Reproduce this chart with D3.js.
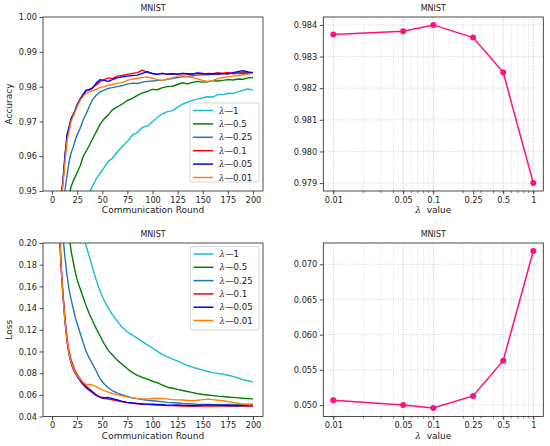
<!DOCTYPE html>
<html><head><meta charset="utf-8">
<script src="https://cdn.jsdelivr.net/npm/d3@7"></script>
<style>
body{margin:0;background:#fff;}
svg{font-family:"DejaVu Sans",sans-serif;}
</style></head>
<body><svg id="c" width="550" height="446"></svg>
<script>
// ---------- DATA ----------
const rounds = [1,3,5,7,9,11,13,15,17,19,21,23,25,28,31,34,37,40,44,48,52,56,60,65,70,75,80,85,90,95,100,105,110,115,120,125,130,135,140,145,150,155,160,165,170,175,180,185,190,195,200];
const seriesNames = ["λ—1","λ—0.5","λ—0.25","λ—0.1","λ—0.05","λ—0.01"];
const lambdaLabels = ["1","0.5","0.25","0.1","0.05","0.01"];
const seriesColors = ["#17becf","#008000","#1f77b4","#ff0000","#0000ff","#ff7f0e"];

const accL1   = [0.80,0.85,0.88,0.90,0.91,0.92,0.925,0.93,0.934,0.937,0.94,0.942,0.944,0.946,0.947,0.948,0.9495,0.9512,0.9535,0.9551,0.9568,0.9585,0.9594,0.9612,0.9628,0.9642,0.9661,0.9668,0.9683,0.9687,0.9699,0.9712,0.9722,0.9728,0.9731,0.9741,0.9750,0.9755,0.9761,0.9764,0.9768,0.9771,0.9770,0.9777,0.9777,0.9781,0.9780,0.9785,0.9789,0.9793,0.9790];
const accL05  = [0.85,0.89,0.91,0.925,0.935,0.940,0.944,0.947,0.949,0.9512,0.9528,0.9540,0.9553,0.9572,0.9599,0.9615,0.9630,0.9648,0.9670,0.9693,0.9708,0.9718,0.9733,0.9742,0.9750,0.9760,0.9766,0.9775,0.9782,0.9786,0.9792,0.9791,0.9797,0.9800,0.9801,0.9806,0.9811,0.9808,0.9812,0.9815,0.9813,0.9814,0.9817,0.9816,0.9818,0.9820,0.9819,0.9822,0.9821,0.9825,0.9826];
const accL025 = [0.88,0.91,0.925,0.935,0.942,0.947,0.9505,0.9545,0.9585,0.9610,0.9625,0.9645,0.9661,0.9680,0.9704,0.9722,0.9742,0.9761,0.9775,0.9785,0.9790,0.9795,0.9797,0.9800,0.9803,0.9807,0.9810,0.9809,0.9813,0.9815,0.9816,0.9818,0.9818,0.9821,0.9823,0.9826,0.9828,0.9829,0.9831,0.9833,0.9834,0.9834,0.9836,0.9836,0.9837,0.9838,0.9838,0.9840,0.9842,0.9841,0.9840];
const accL01  = [0.90,0.92,0.935,0.943,0.948,0.9535,0.9600,0.9656,0.9680,0.9705,0.9718,0.9730,0.9745,0.9762,0.9775,0.9788,0.9792,0.9796,0.9805,0.9814,0.9820,0.9825,0.9823,0.9830,0.9832,0.9835,0.9838,0.9840,0.9847,0.9840,0.9838,0.9836,0.9838,0.9835,0.9837,0.9836,0.9838,0.9835,0.9837,0.9838,0.9836,0.9838,0.9837,0.9840,0.9838,0.9841,0.9837,0.9838,0.9839,0.9838,0.9838];
const accL005 = [0.90,0.92,0.934,0.942,0.947,0.953,0.9605,0.9662,0.9685,0.9708,0.9720,0.9733,0.9748,0.9765,0.9778,0.9790,0.9790,0.9795,0.9810,0.9820,0.9818,0.9815,0.9820,0.9825,0.9828,0.9830,0.9832,0.9833,0.9838,0.9843,0.9837,0.9835,0.9838,0.9836,0.9837,0.9835,0.9838,0.9837,0.9836,0.9839,0.9838,0.9836,0.9837,0.9835,0.9838,0.9836,0.9840,0.9843,0.9846,0.9842,0.9840];
const accL001 = [0.90,0.92,0.934,0.942,0.947,0.952,0.9585,0.9645,0.9672,0.9700,0.9714,0.9728,0.9742,0.9760,0.9772,0.9781,0.9784,0.9788,0.9792,0.9798,0.9800,0.9804,0.9806,0.9810,0.9812,0.9818,0.9822,0.9824,0.9826,0.9828,0.9824,0.9820,0.9818,0.9822,0.9826,0.9830,0.9832,0.9828,0.9826,0.9822,0.9818,0.9814,0.9818,0.9823,0.9826,0.9828,0.9830,0.9832,0.9834,0.9836,0.9838];

const lossL1   = [0.9,0.7,0.55,0.47,0.41,0.37,0.34,0.31,0.29,0.27,0.255,0.243,0.232,0.218,0.207,0.197,0.188,0.178,0.166,0.155,0.147,0.140,0.134,0.128,0.122,0.118,0.115,0.112,0.109,0.106,0.103,0.100,0.097,0.095,0.093,0.091,0.089,0.087,0.0855,0.084,0.0828,0.0815,0.0805,0.0798,0.079,0.078,0.077,0.0755,0.074,0.073,0.0719];
const lossL05  = [0.8,0.55,0.42,0.35,0.30,0.265,0.24,0.222,0.207,0.193,0.183,0.174,0.166,0.158,0.150,0.142,0.135,0.129,0.121,0.114,0.107,0.101,0.097,0.092,0.088,0.084,0.0805,0.078,0.076,0.0745,0.0725,0.071,0.069,0.067,0.066,0.065,0.064,0.063,0.062,0.061,0.0603,0.0598,0.0593,0.0588,0.0585,0.0580,0.0576,0.0572,0.0568,0.0565,0.0563];
const lossL025 = [0.7,0.45,0.33,0.27,0.23,0.205,0.186,0.170,0.157,0.148,0.140,0.132,0.126,0.117,0.108,0.100,0.094,0.089,0.082,0.0745,0.070,0.0665,0.0638,0.0615,0.0598,0.0585,0.0572,0.0565,0.0557,0.0550,0.0545,0.0540,0.0535,0.0530,0.0527,0.0524,0.0520,0.0518,0.0515,0.0512,0.0510,0.0510,0.0508,0.0510,0.0509,0.0510,0.0511,0.0512,0.0512,0.0513,0.0513];
const lossL01  = [0.6,0.38,0.28,0.22,0.18,0.152,0.130,0.112,0.100,0.092,0.087,0.082,0.079,0.075,0.0710,0.0680,0.0655,0.0632,0.0600,0.0575,0.0565,0.0560,0.0555,0.0545,0.0535,0.0528,0.0522,0.0518,0.0515,0.0512,0.0508,0.0505,0.0503,0.0500,0.0500,0.0498,0.0497,0.0496,0.0495,0.0497,0.0496,0.0498,0.0497,0.0496,0.0497,0.0496,0.0498,0.0497,0.0496,0.0497,0.0496];
const lossL005 = [0.6,0.38,0.28,0.22,0.18,0.150,0.127,0.109,0.097,0.089,0.084,0.080,0.077,0.073,0.0695,0.0665,0.0642,0.0622,0.0595,0.0578,0.0573,0.0575,0.0565,0.0552,0.0540,0.0530,0.0524,0.0520,0.0515,0.0514,0.0513,0.0510,0.0508,0.0505,0.0504,0.0506,0.0503,0.0502,0.0500,0.0502,0.0505,0.0507,0.0505,0.0503,0.0504,0.0502,0.0500,0.0499,0.0500,0.0501,0.0500];
const lossL001 = [0.6,0.38,0.28,0.22,0.18,0.150,0.127,0.110,0.098,0.090,0.085,0.081,0.078,0.0745,0.0715,0.0695,0.0695,0.0690,0.0675,0.0655,0.0638,0.0625,0.0612,0.0600,0.0590,0.0580,0.0572,0.0565,0.0560,0.0563,0.0566,0.0568,0.0565,0.0560,0.0556,0.0553,0.0552,0.0548,0.0545,0.0550,0.0556,0.0560,0.0556,0.0550,0.0545,0.0538,0.0530,0.0522,0.0514,0.0510,0.0507];

const lambdaValues = [0.01,0.05,0.1,0.25,0.5,1];
const lambdaTickLabels = ["0.01","0.05","0.1","0.25","0.5","1"];
const finalAcc  = [0.9837,0.9838,0.9840,0.9836,0.9825,0.9790];
const finalLoss = [0.0507,0.0500,0.0496,0.0513,0.0563,0.0719];

const roundTicks = [0,25,50,75,100,125,150,175,200];
const accTicks  = [0.95,0.96,0.97,0.98,0.99,1.00];
const lossTicks = [0.04,0.06,0.08,0.10,0.12,0.14,0.16,0.18,0.20];
const accLamTicks  = [0.979,0.980,0.981,0.982,0.983,0.984];
const lossLamTicks = [0.050,0.055,0.060,0.065,0.070];

const accSeries  = [accL1,accL05,accL025,accL01,accL005,accL001];
const lossSeries = [lossL1,lossL05,lossL025,lossL01,lossL005,lossL001];

// ---------- DRAW ----------
const svg = d3.select("#c");
const FS = 8.2;
let clipId = 0;

function frame(g, x0, x1, y0, y1) {
  g.append("rect").attr("x", x0).attr("y", y0).attr("width", x1 - x0).attr("height", y1 - y0)
    .attr("fill", "none").attr("stroke", "#222").attr("stroke-width", 0.8);
}
function styleAxis(a) {
  a.select(".domain").remove();
  a.selectAll(".tick line").attr("stroke", "#222").attr("stroke-width", 0.8);
  a.selectAll(".tick text").attr("font-size", FS).attr("fill", "#222").attr("font-family", "DejaVu Sans");
}
function title(x0, x1, y, t) {
  svg.append("text").attr("x", (x0 + x1) / 2).attr("y", y).attr("text-anchor", "middle")
    .attr("font-size", 8).attr("fill", "#222").text(t);
}
function lambdaText(sel, rest) {
  sel.append("tspan").attr("font-style", "italic").attr("font-family", "DejaVu Serif").text("λ");
  sel.append("tspan").text(rest);
}

function curvePanel(box, yDomain, yTicks, yFmt, ylabel, series, legendBox) {
  const {x0, x1, y0, y1} = box;
  const x = d3.scaleLinear().domain([-8.95, 209.95]).range([x0, x1]);
  const y = d3.scaleLinear().domain(yDomain).range([y1, y0]);
  const g = svg.append("g");
  const id = "clip" + (clipId++);
  g.append("clipPath").attr("id", id).append("rect").attr("x", x0).attr("y", y0).attr("width", x1 - x0).attr("height", y1 - y0);
  const line = d3.line().x((d, i) => x(rounds[i])).y(d => y(d));
  series.forEach((s, k) => {
    g.append("path").attr("clip-path", `url(#${id})`).attr("d", line(s))
      .attr("fill", "none").attr("stroke", seriesColors[k]).attr("stroke-width", 1.4).attr("stroke-linejoin", "round");
  });
  const ax = g.append("g").attr("transform", `translate(0,${y1})`)
    .call(d3.axisBottom(x).tickValues(roundTicks).tickSize(3.5).tickPadding(2.5).tickFormat(d3.format("d")));
  styleAxis(ax);
  const ay = g.append("g").attr("transform", `translate(${x0},0)`)
    .call(d3.axisLeft(y).tickValues(yTicks).tickSize(3.5).tickPadding(2.5).tickFormat(yFmt));
  styleAxis(ay);
  frame(g, x0, x1, y0, y1);
  g.append("text").attr("x", (x0 + x1) / 2).attr("y", y1 + 22).attr("text-anchor", "middle")
    .attr("font-size", 9).attr("fill", "#222").text("Communication Round");
  g.append("text").attr("transform", `translate(${x0 - 31},${(y0 + y1) / 2}) rotate(-90)`)
    .attr("text-anchor", "middle").attr("font-size", 9).attr("fill", "#222").text(ylabel);
  // legend
  const lb = legendBox;
  g.append("rect").attr("x", lb.x).attr("y", lb.y).attr("width", lb.w).attr("height", lb.h)
    .attr("rx", 2).attr("fill", "#fff").attr("fill-opacity", 0.85).attr("stroke", "#ccc").attr("stroke-width", 0.8);
  seriesNames.forEach((n, k) => {
    const yy = lb.y + 7.5 + k * lb.step;
    g.append("line").attr("x1", lb.x + 3).attr("x2", lb.x + 23).attr("y1", yy).attr("y2", yy)
      .attr("stroke", seriesColors[k]).attr("stroke-width", 1.5);
    const t = g.append("text").attr("x", lb.x + 29).attr("y", yy + 3).attr("font-size", 8.6).attr("fill", "#222");
    lambdaText(t, "—" + lambdaLabels[k]);
  });
}

function lambdaPanel(box, vals, yDomain, yTicks, yFmt) {
  const {x0, x1, y0, y1} = box;
  const x = d3.scaleLog().domain([Math.pow(10, -2.1), Math.pow(10, 0.1)]).range([x0, x1]);
  const y = d3.scaleLinear().domain(yDomain).range([y1, y0]);
  const g = svg.append("g");
  // minor grid
  const minors = [];
  [0.01, 0.1, 1].forEach(dec => { for (let m = 1; m <= 9; m++) { const v = dec * m; if (v >= x.domain()[0] && v <= x.domain()[1]) minors.push(v); } });
  g.selectAll(".mg").data(minors).join("line")
    .attr("x1", d => x(d)).attr("x2", d => x(d)).attr("y1", y0).attr("y2", y1)
    .attr("stroke", "#d8d8d8").attr("stroke-width", 0.7).attr("stroke-dasharray", "1.2,1.2");
  g.selectAll(".xg").data(lambdaValues).join("line")
    .attr("x1", d => x(d)).attr("x2", d => x(d)).attr("y1", y0).attr("y2", y1)
    .attr("stroke", "#cfcfcf").attr("stroke-width", 0.7).attr("stroke-dasharray", "1.2,1.2");
  g.selectAll(".yg").data(yTicks).join("line")
    .attr("x1", x0).attr("x2", x1).attr("y1", d => y(d)).attr("y2", d => y(d))
    .attr("stroke", "#cfcfcf").attr("stroke-width", 0.7).attr("stroke-dasharray", "1.2,1.2");
  // minor ticks
  g.selectAll(".mt").data(minors).join("line")
    .attr("x1", d => x(d)).attr("x2", d => x(d)).attr("y1", y1).attr("y2", y1 + 2)
    .attr("stroke", "#222").attr("stroke-width", 0.6);
  const line = d3.line().x((d, i) => x(lambdaValues[i])).y(d => y(d));
  g.append("path").attr("d", line(vals)).attr("fill", "none").attr("stroke", "#ff0f80").attr("stroke-width", 1.5);
  g.selectAll(".pt").data(vals).join("circle")
    .attr("cx", (d, i) => x(lambdaValues[i])).attr("cy", d => y(d)).attr("r", 3).attr("fill", "#ff0f80");
  const ax = g.append("g").attr("transform", `translate(0,${y1})`)
    .call(d3.axisBottom(x).tickValues(lambdaValues).tickSize(3.5).tickPadding(2.5).tickFormat((d, i) => lambdaTickLabels[i]));
  styleAxis(ax);
  const ay = g.append("g").attr("transform", `translate(${x0},0)`)
    .call(d3.axisLeft(y).tickValues(yTicks).tickSize(3.5).tickPadding(2.5).tickFormat(yFmt));
  styleAxis(ay);
  frame(g, x0, x1, y0, y1);
  const t = g.append("text").attr("x", (x0 + x1) / 2).attr("y", y1 + 22).attr("text-anchor", "middle")
    .attr("font-size", 9).attr("fill", "#222");
  lambdaText(t, "  value");
  t.attr("xml:space", "preserve");
}

const TL = {x0: 43, x1: 263, y0: 17, y1: 191};
const TR = {x0: 323.3, x1: 543.3, y0: 17, y1: 191};
const BL = {x0: 43, x1: 263, y0: 243, y1: 416.5};
const BR = {x0: 323.3, x1: 543.3, y0: 243, y1: 416.5};

curvePanel(TL, [0.95, 1.00], accTicks, d3.format(".2f"), "Accuracy", accSeries, {x: 190, y: 103, w: 69, h: 79, step: 13.4});
curvePanel(BL, [0.04, 0.20], lossTicks, d3.format(".2f"), "Loss", lossSeries, {x: 190.5, y: 246.5, w: 68.5, h: 83.5, step: 13.3});
lambdaPanel(TR, finalAcc, [0.97875, 0.98425], accLamTicks, d3.format(".3f"));
lambdaPanel(BR, finalLoss, [0.04838, 0.07302], lossLamTicks, d3.format(".3f"));

title(TL.x0, TL.x1, 11, "MNIST");
title(TR.x0, TR.x1, 11, "MNIST");
title(BL.x0, BL.x1, 237, "MNIST");
title(BR.x0, BR.x1, 237, "MNIST");
</script></body></html>
